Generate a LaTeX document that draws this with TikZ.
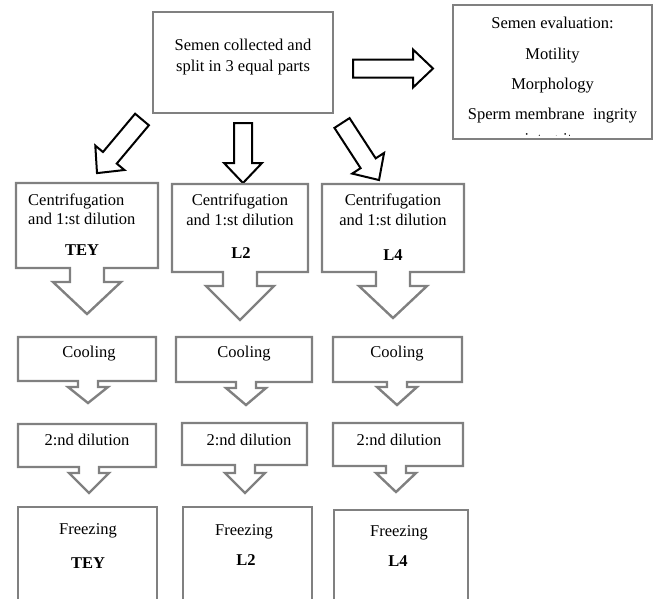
\documentclass[tikz,border=0pt]{standalone}
\usepackage{fontspec}
\setmainfont{Liberation Serif}
\usepackage{tikz}
\usetikzlibrary{calc}
\definecolor{boxgray}{RGB}{128,128,128}
\tikzset{
	graybox/.style={draw=boxgray, line width=2.4pt, line join=miter},
	hollow/.style={draw=black, line width=2pt, fill=white, line join=miter},
	txt/.style={font=\fontsize{16.5}{19.5}\selectfont, inner sep=0pt},
	tag/.style={font=\fontsize{16.5}{19.5}\selectfont\bfseries, inner sep=0pt}
}
% box with a down arrow below: (left,top,right,bottom)(arrow x,half shaft,half head,head y,tip y)
\def\downbox(#1,#2,#3,#4)(#5,#6,#7,#8,#9){\draw[graybox] (#1,#2) -- (#3,#2) -- (#3,#4) -- ({#5+#6},#4) -- ({#5+#6},#8) -- ({#5+#7},#8) -- (#5,#9) -- ({#5-#7},#8) -- ({#5-#6},#8) -- ({#5-#6},#4) -- (#1,#4) -- cycle;}
% hollow block arrow: tail centre, angle, length
\newcommand{\fatarrow}[3]{\draw[hollow, shift={(#1)}, rotate=#2] (0,-9) -- ({#3-20},-9) -- ({#3-20},-19) -- (#3,0) -- ({#3-20},19) -- ({#3-20},9) -- (0,9) -- cycle;}

\begin{document}
\begin{tikzpicture}[x=1pt,y=-1pt]
			%%%%% START %%%%%
			\useasboundingbox (0,0) rectangle (656,598);
			\clip (0,0) rectangle (656,598);
			
			% top row
			\draw[graybox] (153,12) rectangle (333,113);
			\node[txt, align=center, font=\fontsize{16.5}{21}\selectfont] (collect) at (243,57.5) {Semen collected and\\split in 3 equal parts};
			
			\draw[graybox] (453,5) rectangle (652,139);
			\node[txt, align=center, font=\fontsize{16.5}{30.3}\selectfont] (evaluation) at (552.5,70.5) {Semen evaluation:\\Motility\\Morphology\\Sperm membrane\ \ ingrity};
			\begin{scope}
				\clip (456,120) rectangle (649,135.5);
				\node[txt] (evalrest) at (552.5,141) {integrity};
			\end{scope}
			
			\fatarrow{353,68.5}{0}{80}
			\fatarrow{142,119.5}{230}{70}
			\fatarrow{243,123}{-90}{60}
			\fatarrow{342,123}{-57}{68}
			
			% centrifugation
			\downbox(16,183,158,268)(87,17,34,282,314)
			\downbox(172,184,308,272)(240,17,34,286,320)
			\downbox(322,184,464,272)(393,17,34,286,318)
			\node[txt, align=left, anchor=west] (centTEY) at (28,209.5) {Centrifugation\\and 1:st dilution};
			\node[tag] (tagTEY) at (82,250) {TEY};
			\node[txt, align=center] (centLtwo) at (240,210) {Centrifugation\\and 1:st dilution};
			\node[tag] (tagLtwo) at (241,253) {L2};
			\node[txt, align=center] (centLfour) at (393,210) {Centrifugation\\and 1:st dilution};
			\node[tag] (tagLfour) at (393,255) {L4};
			
			% cooling
			\downbox(18,337,156,381)(88,10,20,387,403)
			\downbox(176,337,312,382)(246,10,20,388,405)
			\downbox(333,337,462,382)(397,10,20,387,405)
			\node[txt] (coolTEY) at (89,354) {Cooling};
			\node[txt] (coolLtwo) at (244,354) {Cooling};
			\node[txt] (coolLfour) at (397,354) {Cooling};
			
			% second dilution
			\downbox(18,424,156,467)(89,10,20,473,493)
			\downbox(182,423,307,465)(245,10,20,473,493)
			\downbox(333,423,463,466)(396,10,20,473,492)
			\node[txt] (dilTEY) at (87,440) {2:nd dilution};
			\node[txt] (dilLtwo) at (249,440) {2:nd dilution};
			\node[txt] (dilLfour) at (399,440) {2:nd dilution};
			
			% freezing
			\draw[graybox] (18,507) rectangle (157,610);
			\draw[graybox] (183,507) rectangle (312,610);
			\draw[graybox] (334,510) rectangle (468,610);
			\node[txt] (freezeTEY) at (88,531) {Freezing};
			\node[tag] (endTEY) at (88,563) {TEY};
			\node[txt] (freezeLtwo) at (244,532) {Freezing};
			\node[tag] (endLtwo) at (246,560) {L2};
			\node[txt] (freezeLfour) at (399,533) {Freezing};
			\node[tag] (endLfour) at (398,561) {L4};
			
			%%%%% END %%%%%
\end{tikzpicture}
\end{document}
